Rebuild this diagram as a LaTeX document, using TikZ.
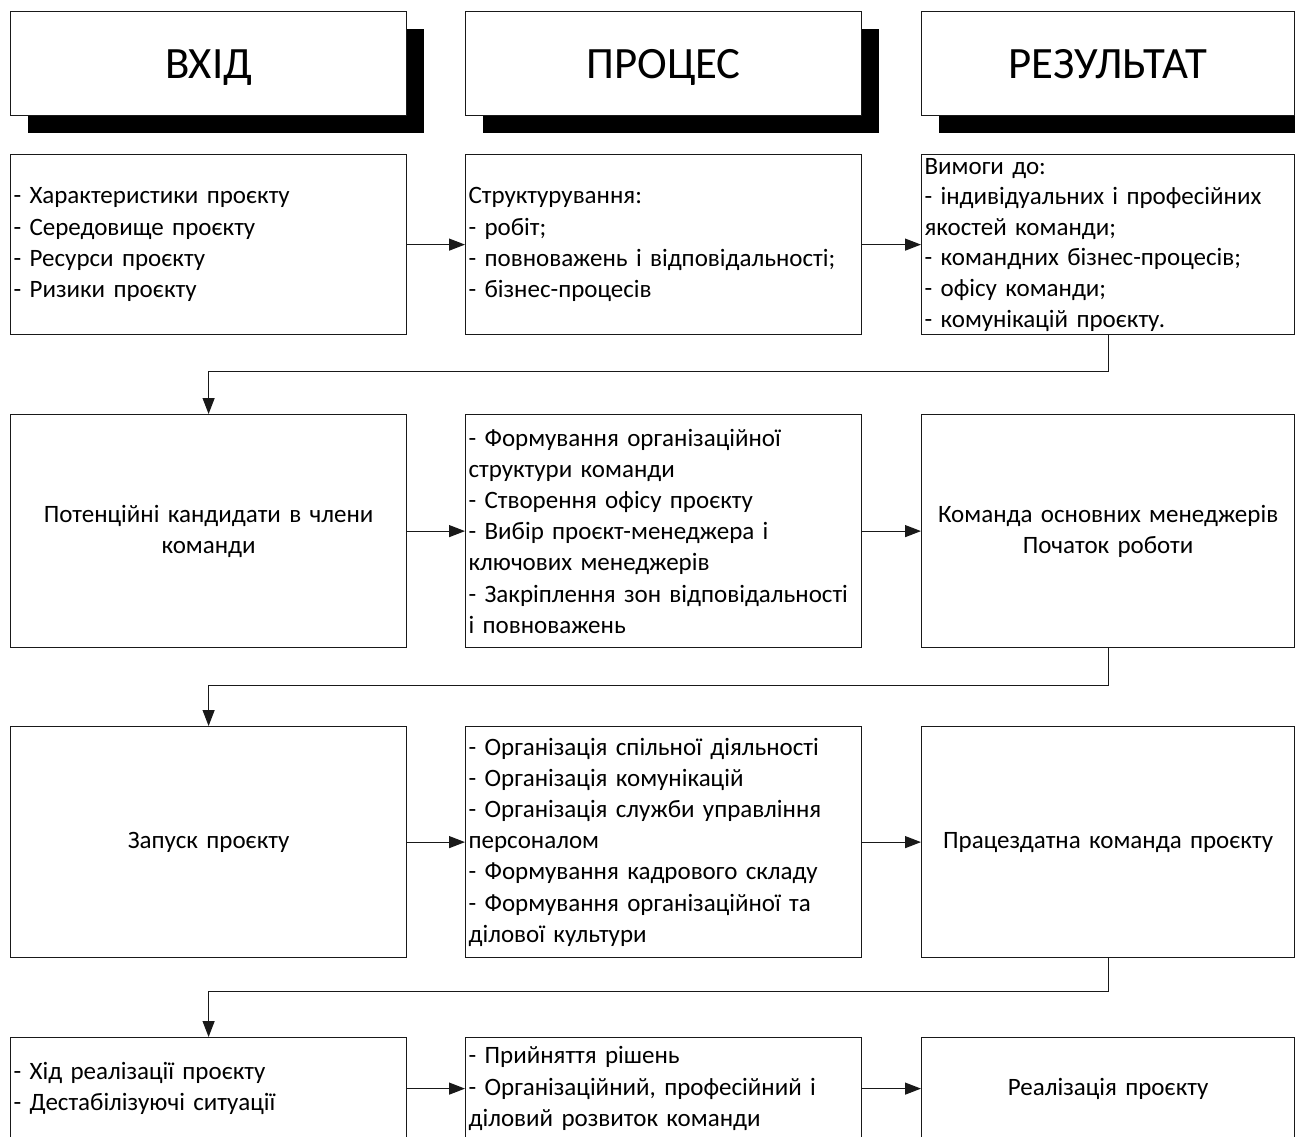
\documentclass[tikz,border=0pt]{standalone}
\usepackage{fontspec}
\setmainfont{Carlito}
\usetikzlibrary{arrows.meta,shadows}

\tikzset{
box/.style={draw=black!90, line width=0.6pt, fill=white, anchor=north west,
  inner xsep=1.5pt, inner ysep=0pt, font=\fontsize{12.5}{15.6}\selectfont},
headbox/.style={box, minimum width=198pt, minimum height=52pt,
  font=\fontsize{22.4}{26}\selectfont, text height=14.4pt, text depth=0pt,
  drop shadow={shadow xshift=8.5pt, shadow yshift=-8.5pt, fill=black, opacity=1}},
lbox/.style={box, text width=195pt, align=left},
cbox/.style={box, text width=195pt, align=center},
rbox/.style={box, text width=183.5pt, align=center},
rlbox/.style={box, text width=183.5pt, align=left},
link/.style={draw=black!90, line width=0.6pt, -{Triangle[length=8pt,width=6pt]}}
}

\begin{document}
\begin{tikzpicture}[x=0.5pt, y=-0.5pt]
\useasboundingbox (0,0) rectangle (1295,1136);

% headers
\node[headbox] (hin)  at (10,11)  {ВХІД};
\node[headbox] (hproc) at (465,11) {ПРОЦЕС};
\node[headbox, minimum width=186.5pt] (hres) at (921,11) {РЕЗУЛЬТАТ};

% row 1
\node[lbox, minimum height=90pt] (in1) at (10,154)
  {- Характеристики проєкту\\- Середовище проєкту\\- Ресурси проєкту\\- Ризики проєкту};
\node[lbox, minimum height=90pt] (proc1) at (465,154)
  {Структурування:\\- робіт;\\- повноважень і відповідальності;\\- бізнес-процесів};
\node[rlbox, minimum height=90pt, font=\fontsize{12.5}{15.3}\selectfont] (res1) at (921,154)
  {Вимоги до:\\- індивідуальних і професійних\\якостей команди;\\- командних бізнес-процесів;\\- офісу команди;\\- комунікацій проєкту.};

% row 2
\node[cbox, minimum height=116.5pt] (in2) at (10,414)
  {Потенційні кандидати в члени\\команди};
\node[lbox, minimum height=116.5pt] (proc2) at (465,414)
  {- Формування організаційної\\структури команди\\- Створення офісу проєкту\\- Вибір проєкт-менеджера і\\ключових менеджерів\\- Закріплення зон відповідальності\\і повноважень};
\node[rbox, minimum height=116.5pt] (res2) at (921,414)
  {Команда основних менеджерів\\Початок роботи};

% row 3
\node[cbox, minimum height=115.5pt] (in3) at (10,726) {Запуск проєкту};
\node[lbox, minimum height=115.5pt] (proc3) at (465,726)
  {- Організація спільної діяльності\\- Організація комунікацій\\- Організація служби управління\\персоналом\\- Формування кадрового складу\\- Формування організаційної та\\ділової культури};
\node[rbox, minimum height=115.5pt] (res3) at (921,726) {Працездатна команда проєкту};

% row 4
\node[lbox, minimum height=51pt] (in4) at (10,1037)
  {- Хід реалізації проєкту\\- Дестабілізуючі ситуації};
\node[lbox, minimum height=51pt] (proc4) at (465,1037)
  {- Прийняття рішень\\- Організаційний, професійний і\\діловий розвиток команди};
\node[rbox, minimum height=51pt] (res4) at (921,1037) {Реалізація проєкту};

% arrows in rows
\foreach \r in {1,2,3,4} {
  \draw[link] (in\r) -- (proc\r);
  \draw[link] (proc\r) -- (res\r);
}

% arrows between rows
\draw[link] (res1.south) -- ++(0,36) -| (in2.north);
\draw[link] (res2.south) -- ++(0,37) -| (in3.north);
\draw[link] (res3.south) -- ++(0,33) -| (in4.north);
\end{tikzpicture}
\end{document}
